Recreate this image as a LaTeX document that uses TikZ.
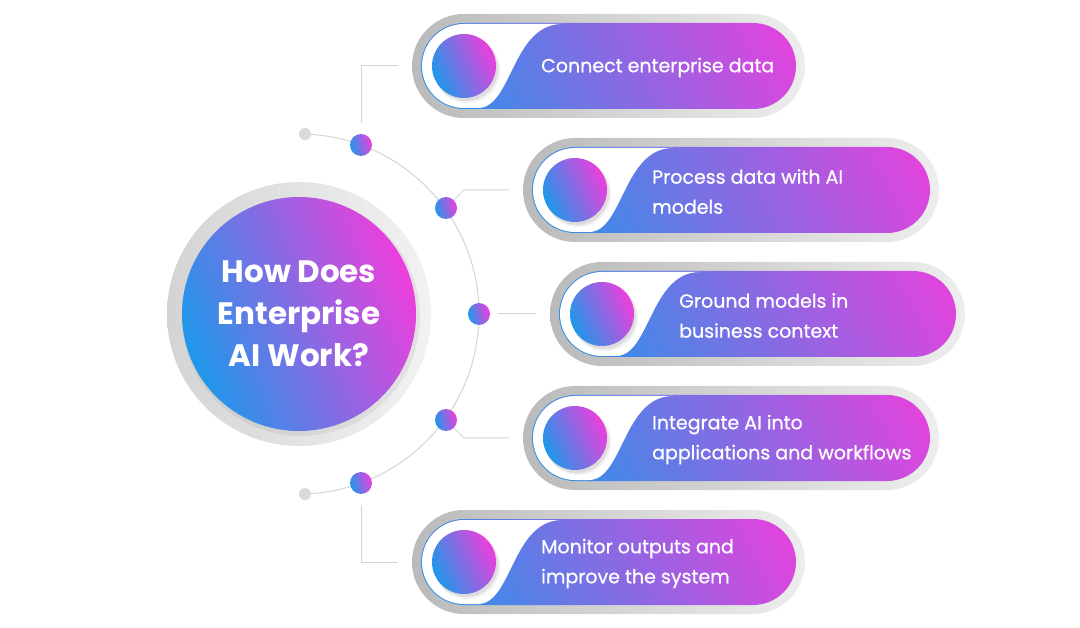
\documentclass[tikz,border=0pt]{standalone}
\usepackage{fontspec}
\setmainfont{Poppins}
\newfontfamily\pillfont[FakeBold=0.7]{Poppins}
\definecolor{blu}{HTML}{1E98EA}
\definecolor{mag}{HTML}{EE3EDC}
\definecolor{ln}{HTML}{D4D4D4}
\definecolor{enddot}{HTML}{DADADA}
\tikzset{
  conn/.style={draw=ln, line width=1pt},
  gdot/.style={circle, minimum size=22pt, inner sep=0pt, top color=mag, bottom color=blu, shading angle=-75},
  edot/.style={circle, minimum size=12pt, inner sep=0pt, fill=enddot},
  pilltext/.style={anchor=west, align=left, text=white, font=\pillfont\fontsize{19}{30}\selectfont, inner sep=0pt},
  title/.style={align=center, text=white, font=\bfseries\fontsize{31}{42}\selectfont, inner sep=0pt},
}
\newcommand\pillitem[5]{%
  \shade[left color=black!27, right color=black!7, rounded corners=52pt] (#2,#3-52) rectangle (#4,#3+52);
  \begin{scope}
    \clip[rounded corners=43pt] (#2+9,#3-43) rectangle (#4-9,#3+43);
    \shade[top color=mag, bottom color=blu, shading angle=-62] ({(#2+#4)/2-(#4-#2)/2},{#3-(#4-#2)/2}) rectangle ({(#2+#4)/2+(#4-#2)/2},{#3+(#4-#2)/2});
  \end{scope}
  \fill[white] (#2+52,#3-42) arc[start angle=270, end angle=90, radius=42] -- (#2+66,#3+42) .. controls (#2+100,#3+42) and (#2+100,#3-42) .. (#2+150,#3-42) -- cycle;
  \fill[black, opacity=0.06] (#2+55,#3+4) circle[radius=33];
  \fill[black, opacity=0.08] (#2+54,#3+3) circle[radius=32];
  \shade[top color=mag, bottom color=blu, shading angle=-65] (#2+52,#3) circle[radius=32];
  \node[pilltext] (#1) at (#2+129,#3+1.5) {#5};
  \coordinate (#1in) at (#2-14,#3);
}
\begin{document}
\begin{tikzpicture}[x=1pt, y=-1pt]
\fill[white] (0,0) rectangle (1080,628);
\useasboundingbox (0,0) rectangle (1080,628);

% central circle
\shade[left color=black!17, right color=black!5] (299,314) circle[radius=132];
\fill[black, opacity=0.06] (301,317) circle[radius=119];
\shade[top color=mag, bottom color=blu, shading angle=-68] (299,314) circle[radius=117];
\node[title] (t) at (299,314) {How Does\\Enterprise\\AI Work?};

% arc
\draw[conn] (299,314) ++(-88:180) arc[start angle=-88, end angle=88, radius=180];
\node[edot] (e1) at (305,134) {};
\node[edot] (e2) at (305,494) {};
\node[gdot] (d1) at (361,145) {};
\node[gdot] (d2) at (446,208) {};
\node[gdot] (d3) at (479,314) {};
\node[gdot] (d4) at (446,420) {};
\node[gdot] (d5) at (361,483) {};

% pills
\pillitem{p1}{412}{66}{805}{Connect enterprise data}
\pillitem{p2}{523}{190}{939}{Process data with AI\\models}
\pillitem{p3}{550}{314}{965}{Ground models in\\business context}
\pillitem{p4}{523}{438}{939}{Integrate AI into\\applications and workflows}
\pillitem{p5}{412}{562}{805}{Monitor outputs and\\improve the system}

% connectors
\coordinate (k2) at (464,190);
\coordinate (k4) at (464,438);
\draw[conn, shorten <=11pt] (d1.north) |- (p1in);
\draw[conn] (d2.45) -- (k2) -- (p2in);
\draw[conn, shorten <=8pt] (d3.east) -- (p3in);
\draw[conn] (d4.-45) -- (k4) -- (p4in);
\draw[conn, shorten <=11pt] (d5.south) |- (p5in);
\end{tikzpicture}
\end{document}
